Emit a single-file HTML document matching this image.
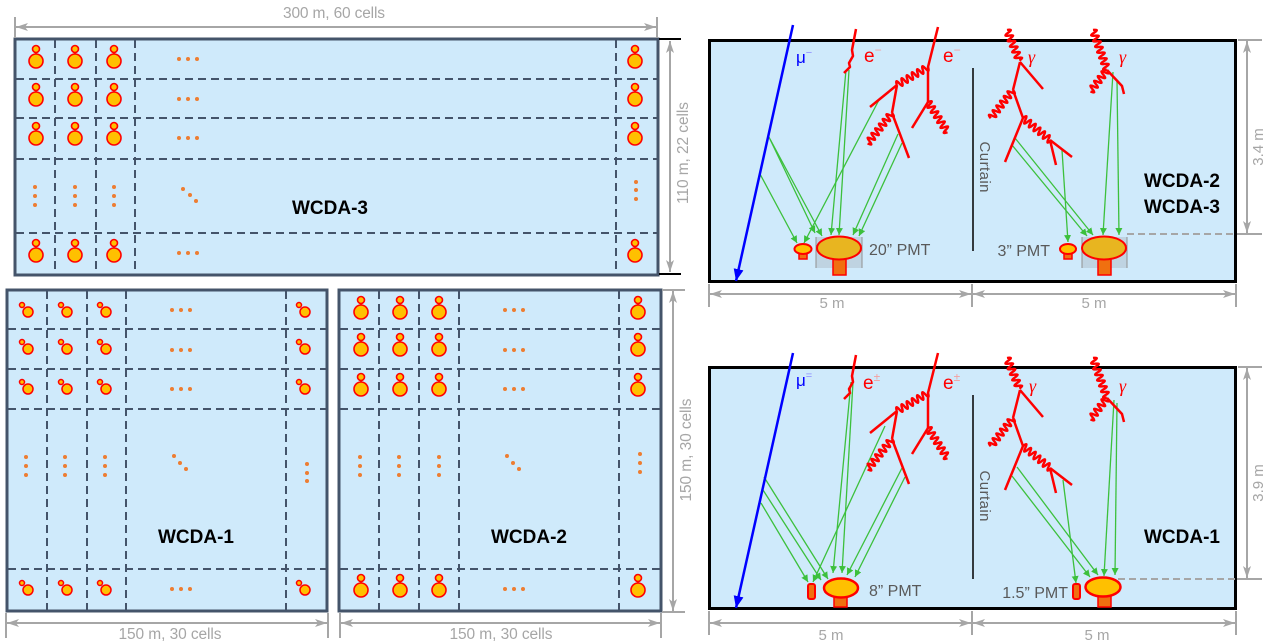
<!DOCTYPE html>
<html><head><meta charset="utf-8"><style>html,body{margin:0;padding:0;background:#fff}svg{display:block}</style></head><body>
<svg width="1268" height="644" viewBox="0 0 1268 644" xmlns="http://www.w3.org/2000/svg" font-family="'Liberation Sans', sans-serif">
<defs>
<marker id="ga" viewBox="0 0 8 8" refX="8" refY="4" markerWidth="7" markerHeight="7" markerUnits="userSpaceOnUse" orient="auto"><path d="M0,0L8,4L0,8z" fill="#3cc03c"/></marker>
<marker id="da" viewBox="0 0 12 8" refX="12" refY="4" markerWidth="12" markerHeight="8" markerUnits="userSpaceOnUse" orient="auto-start-reverse"><path d="M0,0L12,4L0,8L3,4z" fill="#a6a6a6"/></marker>
<marker id="ba" viewBox="0 0 12 10" refX="12" refY="5" markerWidth="12" markerHeight="10" markerUnits="userSpaceOnUse" orient="auto"><path d="M0,0L12,5L0,10z" fill="#0000ff"/></marker>
<g id="p3" stroke="#ff0000" stroke-width="1.6" fill="#ffc000"><line x1="0" y1="-8" x2="0" y2="-7" /><circle cx="0" cy="0" r="7"/><circle cx="0" cy="-12" r="3.5"/></g>
<g id="p1" stroke="#ff0000" stroke-width="1.5" fill="#ffc000"><circle cx="0" cy="0" r="5"/><circle cx="-6" cy="-7" r="2.5"/></g>
</defs>

<!-- ============ WCDA-3 ============ -->
<rect x="15" y="39" width="643" height="236" fill="#cfeafb" stroke="#44546a" stroke-width="3"/>
<g stroke="#44546a" stroke-width="2" stroke-dasharray="8 5" fill="none">
<line x1="55" y1="40" x2="55" y2="274"/><line x1="96" y1="40" x2="96" y2="274"/><line x1="135" y1="40" x2="135" y2="274"/><line x1="616" y1="40" x2="616" y2="274"/>
<line x1="16" y1="79" x2="657" y2="79"/><line x1="16" y1="118" x2="657" y2="118"/><line x1="16" y1="159" x2="657" y2="159"/><line x1="16" y1="233" x2="657" y2="233"/>
</g>
<use href="#p3" x="36" y="61"/><use href="#p3" x="75" y="61"/><use href="#p3" x="114" y="61"/><use href="#p3" x="635" y="61"/>
<use href="#p3" x="36" y="99"/><use href="#p3" x="75" y="99"/><use href="#p3" x="114" y="99"/><use href="#p3" x="635" y="99"/>
<use href="#p3" x="36" y="138"/><use href="#p3" x="75" y="138"/><use href="#p3" x="114" y="138"/><use href="#p3" x="635" y="138"/>
<use href="#p3" x="36" y="255"/><use href="#p3" x="75" y="255"/><use href="#p3" x="114" y="255"/><use href="#p3" x="635" y="255"/>
<g fill="#ed7d31">
<circle cx="179" cy="59" r="2"/><circle cx="188" cy="59" r="2"/><circle cx="197" cy="59" r="2"/>
<circle cx="179" cy="99" r="2"/><circle cx="188" cy="99" r="2"/><circle cx="197" cy="99" r="2"/>
<circle cx="179" cy="138" r="2"/><circle cx="188" cy="138" r="2"/><circle cx="197" cy="138" r="2"/>
<circle cx="179" cy="253" r="2"/><circle cx="188" cy="253" r="2"/><circle cx="197" cy="253" r="2"/>
<circle cx="35" cy="187" r="2"/><circle cx="35" cy="196" r="2"/><circle cx="35" cy="205" r="2"/>
<circle cx="75" cy="187" r="2"/><circle cx="75" cy="196" r="2"/><circle cx="75" cy="205" r="2"/>
<circle cx="114" cy="187" r="2"/><circle cx="114" cy="196" r="2"/><circle cx="114" cy="205" r="2"/>
<circle cx="183" cy="189" r="2"/><circle cx="190" cy="195" r="2"/><circle cx="196" cy="201" r="2"/>
<circle cx="636" cy="182" r="2"/><circle cx="636" cy="190" r="2"/><circle cx="636" cy="199" r="2"/>
</g>
<text x="330" y="214" font-size="19" font-weight="bold" text-anchor="middle" fill="#000">WCDA-3</text>

<!-- dims WCDA-3 -->
<g stroke="#a6a6a6" stroke-width="2" fill="none">
<line x1="15" y1="17" x2="15" y2="38"/><line x1="657" y1="17" x2="657" y2="38"/>
<line x1="16" y1="27" x2="656" y2="27" marker-start="url(#da)" marker-end="url(#da)"/>
<line x1="670" y1="41" x2="670" y2="272" marker-start="url(#da)" marker-end="url(#da)"/>
</g>
<g stroke="#000" stroke-width="2"><line x1="659" y1="39" x2="681" y2="39"/><line x1="659" y1="274" x2="681" y2="274"/></g>
<text x="334" y="18" font-size="15.5" text-anchor="middle" fill="#a6a6a6" textLength="102">300 m, 60 cells</text>
<text transform="translate(688,153) rotate(-90)" font-size="15.5" text-anchor="middle" fill="#a6a6a6" textLength="102">110 m, 22 cells</text>

<!-- ============ WCDA-1 ============ -->
<rect x="7" y="290" width="320" height="321" fill="#cfeafb" stroke="#44546a" stroke-width="3"/>
<g stroke="#44546a" stroke-width="2" stroke-dasharray="8 5" fill="none">
<line x1="47" y1="291" x2="47" y2="610"/><line x1="87" y1="291" x2="87" y2="610"/><line x1="126" y1="291" x2="126" y2="610"/><line x1="286" y1="291" x2="286" y2="610"/>
<line x1="8" y1="329" x2="326" y2="329"/><line x1="8" y1="369" x2="326" y2="369"/><line x1="8" y1="409" x2="326" y2="409"/><line x1="8" y1="569" x2="326" y2="569"/>
</g>
<use href="#p1" x="28" y="312"/><use href="#p1" x="67" y="312"/><use href="#p1" x="106" y="312"/><use href="#p1" x="305" y="312"/>
<use href="#p1" x="28" y="349"/><use href="#p1" x="67" y="349"/><use href="#p1" x="106" y="349"/><use href="#p1" x="305" y="349"/>
<use href="#p1" x="28" y="389"/><use href="#p1" x="67" y="389"/><use href="#p1" x="106" y="389"/><use href="#p1" x="305" y="389"/>
<use href="#p1" x="28" y="590"/><use href="#p1" x="67" y="590"/><use href="#p1" x="106" y="590"/><use href="#p1" x="305" y="590"/>
<g fill="#ed7d31">
<circle cx="172" cy="310" r="2"/><circle cx="181" cy="310" r="2"/><circle cx="190" cy="310" r="2"/>
<circle cx="172" cy="350" r="2"/><circle cx="181" cy="350" r="2"/><circle cx="190" cy="350" r="2"/>
<circle cx="172" cy="389" r="2"/><circle cx="181" cy="389" r="2"/><circle cx="190" cy="389" r="2"/>
<circle cx="172" cy="589" r="2"/><circle cx="181" cy="589" r="2"/><circle cx="190" cy="589" r="2"/>
<circle cx="26" cy="457" r="2"/><circle cx="26" cy="466" r="2"/><circle cx="26" cy="475" r="2"/>
<circle cx="65" cy="457" r="2"/><circle cx="65" cy="466" r="2"/><circle cx="65" cy="475" r="2"/>
<circle cx="105" cy="457" r="2"/><circle cx="105" cy="466" r="2"/><circle cx="105" cy="475" r="2"/>
<circle cx="174" cy="456" r="2"/><circle cx="180" cy="463" r="2"/><circle cx="186" cy="469" r="2"/>
<circle cx="307" cy="464" r="2"/><circle cx="307" cy="473" r="2"/><circle cx="307" cy="481" r="2"/>
</g>
<text x="196" y="543" font-size="19" font-weight="bold" text-anchor="middle" fill="#000">WCDA-1</text>

<!-- ============ WCDA-2 ============ -->
<rect x="339" y="290" width="322" height="321" fill="#cfeafb" stroke="#44546a" stroke-width="3"/>
<g stroke="#44546a" stroke-width="2" stroke-dasharray="8 5" fill="none">
<line x1="379" y1="291" x2="379" y2="610"/><line x1="419" y1="291" x2="419" y2="610"/><line x1="459" y1="291" x2="459" y2="610"/><line x1="619" y1="291" x2="619" y2="610"/>
<line x1="340" y1="329" x2="660" y2="329"/><line x1="340" y1="369" x2="660" y2="369"/><line x1="340" y1="409" x2="660" y2="409"/><line x1="340" y1="569" x2="660" y2="569"/>
</g>
<use href="#p3" x="361" y="312"/><use href="#p3" x="400" y="312"/><use href="#p3" x="439" y="312"/><use href="#p3" x="638" y="312"/>
<use href="#p3" x="361" y="349"/><use href="#p3" x="400" y="349"/><use href="#p3" x="439" y="349"/><use href="#p3" x="638" y="349"/>
<use href="#p3" x="361" y="389"/><use href="#p3" x="400" y="389"/><use href="#p3" x="439" y="389"/><use href="#p3" x="638" y="389"/>
<use href="#p3" x="361" y="590"/><use href="#p3" x="400" y="590"/><use href="#p3" x="439" y="590"/><use href="#p3" x="638" y="590"/>
<g fill="#ed7d31">
<circle cx="505" cy="310" r="2"/><circle cx="514" cy="310" r="2"/><circle cx="523" cy="310" r="2"/>
<circle cx="505" cy="350" r="2"/><circle cx="514" cy="350" r="2"/><circle cx="523" cy="350" r="2"/>
<circle cx="505" cy="389" r="2"/><circle cx="514" cy="389" r="2"/><circle cx="523" cy="389" r="2"/>
<circle cx="505" cy="589" r="2"/><circle cx="514" cy="589" r="2"/><circle cx="523" cy="589" r="2"/>
<circle cx="360" cy="457" r="2"/><circle cx="360" cy="466" r="2"/><circle cx="360" cy="475" r="2"/>
<circle cx="399" cy="457" r="2"/><circle cx="399" cy="466" r="2"/><circle cx="399" cy="475" r="2"/>
<circle cx="439" cy="457" r="2"/><circle cx="439" cy="466" r="2"/><circle cx="439" cy="475" r="2"/>
<circle cx="507" cy="456" r="2"/><circle cx="513" cy="463" r="2"/><circle cx="519" cy="469" r="2"/>
<circle cx="640" cy="454" r="2"/><circle cx="640" cy="463" r="2"/><circle cx="640" cy="472" r="2"/>
</g>
<text x="529" y="543" font-size="19" font-weight="bold" text-anchor="middle" fill="#000">WCDA-2</text>

<!-- dims WCDA-1/2 -->
<g stroke="#a6a6a6" stroke-width="2" fill="none">
<line x1="6" y1="613" x2="6" y2="638"/><line x1="328" y1="613" x2="328" y2="638"/>
<line x1="7" y1="623" x2="327" y2="623" marker-start="url(#da)" marker-end="url(#da)"/>
<line x1="340" y1="613" x2="340" y2="638"/><line x1="661" y1="613" x2="661" y2="638"/>
<line x1="341" y1="623" x2="660" y2="623" marker-start="url(#da)" marker-end="url(#da)"/>
<line x1="662" y1="290" x2="685" y2="290"/><line x1="662" y1="612" x2="685" y2="612"/>
<line x1="673" y1="291" x2="673" y2="611" marker-start="url(#da)" marker-end="url(#da)"/>
</g>
<text x="170" y="639" font-size="15.5" text-anchor="middle" fill="#a6a6a6" textLength="103">150 m, 30 cells</text>
<text x="501" y="639" font-size="15.5" text-anchor="middle" fill="#a6a6a6" textLength="103">150 m, 30 cells</text>
<text transform="translate(691,450) rotate(-90)" font-size="15.5" text-anchor="middle" fill="#a6a6a6" textLength="103">150 m, 30 cells</text>

<!-- ============ Right top panel ============ -->
<rect x="709.5" y="40.5" width="526" height="241" fill="#cfeafb" stroke="#000" stroke-width="3"/>
<line x1="973" y1="68" x2="973" y2="251" stroke="#000" stroke-width="1.5"/>
<text transform="translate(980,167) rotate(90)" font-size="15" text-anchor="middle" fill="#595959" textLength="51">Curtain</text>
<text x="1182" y="187" font-size="19" font-weight="bold" text-anchor="middle" fill="#000">WCDA-2</text>
<text x="1182" y="213" font-size="19" font-weight="bold" text-anchor="middle" fill="#000">WCDA-3</text>

<!-- PMTs top -->
<rect x="816" y="237" width="46" height="31" fill="#b9cbd8" fill-opacity="0.75"/>
<line x1="816" y1="237" x2="816" y2="268" stroke="#909090" stroke-width="1"/><line x1="862" y1="237" x2="862" y2="268" stroke="#909090" stroke-width="1"/>
<rect x="833" y="259" width="13" height="16" fill="#f07010" stroke="#ff0000" stroke-width="1.5"/>
<ellipse cx="839" cy="248" rx="22" ry="11.5" fill="#e8b520" stroke="#ff0000" stroke-width="2"/>
<rect x="799" y="252" width="8" height="7" fill="#f07010" stroke="#ff0000" stroke-width="1.5"/>
<ellipse cx="803" cy="249" rx="8.5" ry="5" fill="#ffc000" stroke="#ff0000" stroke-width="2"/>
<text x="869" y="255" font-size="16" fill="#595959">20” PMT</text>

<rect x="1082" y="237" width="45" height="31" fill="#b9cbd8" fill-opacity="0.75"/>
<line x1="1082" y1="237" x2="1082" y2="268" stroke="#909090" stroke-width="1"/><line x1="1127" y1="237" x2="1127" y2="268" stroke="#909090" stroke-width="1"/>
<rect x="1098" y="259" width="13" height="16" fill="#f07010" stroke="#ff0000" stroke-width="1.5"/>
<ellipse cx="1104" cy="248" rx="22" ry="11.5" fill="#e8b520" stroke="#ff0000" stroke-width="2"/>
<rect x="1064" y="252" width="8" height="7" fill="#f07010" stroke="#ff0000" stroke-width="1.5"/>
<ellipse cx="1068" cy="249" rx="8" ry="5" fill="#ffc000" stroke="#ff0000" stroke-width="2"/>
<text x="1050" y="256" font-size="16" fill="#595959" text-anchor="end">3” PMT</text>

<!-- green light top -->
<g stroke="#3cc03c" stroke-width="1.3" fill="none" marker-end="url(#ga)">
<line x1="768" y1="135" x2="815" y2="233"/><line x1="770" y1="139" x2="822" y2="236"/><line x1="760" y1="174" x2="797" y2="243"/>
<line x1="846" y1="70" x2="831" y2="235"/><line x1="849" y1="70" x2="839" y2="235"/>
<line x1="880" y1="98" x2="804" y2="243"/>
<line x1="898" y1="134" x2="853" y2="235"/><line x1="902" y1="143" x2="859" y2="236"/>
<line x1="1015" y1="138" x2="1093" y2="235"/><line x1="1012" y1="145" x2="1087" y2="236"/>
<line x1="1062" y1="150" x2="1068" y2="242"/>
<line x1="1113" y1="72" x2="1103" y2="235"/><line x1="1117" y1="80" x2="1119" y2="235"/>
</g>

<!-- muon top -->
<line x1="793" y1="25" x2="736" y2="281" stroke="#0000ff" stroke-width="2.5" marker-end="url(#ba)"/>
<text x="796" y="63" font-size="17" fill="#0000ff">μ<tspan font-size="11" dy="-7" fill="#8c8cff">−</tspan></text>

<!-- electrons top -->
<g id="etop" stroke="#ff0000" stroke-width="2.5" fill="none" stroke-linejoin="round">
<polyline points="856,29 852,50 853,56 849,63 850,67 844,73"/>
<polyline points="938,27 928,67 928,102"/>
<line x1="897" y1="85" x2="870" y2="107"/>
<line x1="897" y1="85" x2="892" y2="113"/>
<line x1="892" y1="113" x2="909" y2="158"/>
<line x1="928" y1="102" x2="912" y2="128"/>
<g stroke-width="2.4">
<path transform="translate(928,67) rotate(149.9)" d="M0,0q1.5,-7 3,0t3,0t3,0t3,0t3,0t3,0t3,0t3,0t3,0t3,0t3,0t3,0"/>
<path transform="translate(928,102) rotate(57.2)" d="M0,0q1.5,-7 3,0t3,0t3,0t3,0t3,0t3,0t3,0t3,0t3,0t3,0t3,0t3,0"/>
<path transform="translate(892,113) rotate(128.7)" d="M0,0q1.5,-7 3,0t3,0t3,0t3,0t3,0t3,0t3,0t3,0t3,0t3,0t3,0t3,0t3,0"/>
</g>
</g>
<text x="864" y="62" font-size="19" fill="#ff0000">e<tspan font-size="12" dy="-8" fill="#f4a0a0">−</tspan></text>
<text x="943" y="62" font-size="19" fill="#ff0000">e<tspan font-size="12" dy="-8" fill="#f4a0a0">−</tspan></text>

<!-- gammas top -->
<g id="gtop" stroke="#ff0000" stroke-width="2.5" fill="none" stroke-linejoin="round">
<line x1="1020" y1="62" x2="1043" y2="89"/>
<line x1="1020" y1="62" x2="1013" y2="90"/>
<line x1="1013" y1="90" x2="1023" y2="118"/>
<line x1="1023" y1="118" x2="1005" y2="162"/>
<line x1="1050" y1="140" x2="1072" y2="157"/>
<line x1="1050" y1="140" x2="1056" y2="165"/>
<polyline points="1107,70 1122,86 1124,94"/>
<g stroke-width="2.4">
<path transform="translate(1007,30) rotate(67.9)" d="M0,0q1.5,-7 3,0t3,0t3,0t3,0t3,0t3,0t3,0t3,0t3,0t3,0t3,0"/>
<path transform="translate(1013,90) rotate(128.2)" d="M0,0q1.5,-7 3,0t3,0t3,0t3,0t3,0t3,0t3,0t3,0t3,0t3,0t3,0t3,0"/>
<path transform="translate(1023,118) rotate(39.2)" d="M0,0q1.5,-7 3,0t3,0t3,0t3,0t3,0t3,0t3,0t3,0t3,0t3,0t3,0t3,0"/>
<path transform="translate(1093,30) rotate(70.7)" d="M0,0q1.5,-7 3,0t3,0t3,0t3,0t3,0t3,0t3,0t3,0t3,0t3,0t3,0t3,0t3,0t3,0"/>
<path transform="translate(1107,70) rotate(127.7)" d="M0,0q1.5,-7 3,0t3,0t3,0t3,0t3,0t3,0t3,0t3,0t3,0"/>
</g>
</g>
<text x="1028" y="63" font-size="18" font-style="italic" font-family="'Liberation Serif', serif" fill="#ff0000">γ</text>
<text x="1119" y="63" font-size="18" font-style="italic" font-family="'Liberation Serif', serif" fill="#ff0000">γ</text>

<!-- dims top right -->
<g stroke="#a6a6a6" stroke-width="2" fill="none">
<line x1="709" y1="284" x2="709" y2="307"/><line x1="972" y1="284" x2="972" y2="307"/><line x1="1236" y1="284" x2="1236" y2="307"/>
<line x1="710" y1="294" x2="971" y2="294" marker-start="url(#da)" marker-end="url(#da)"/>
<line x1="973" y1="294" x2="1235" y2="294" marker-start="url(#da)" marker-end="url(#da)"/>
<line x1="1238" y1="40" x2="1262" y2="40"/>
<line x1="1127" y1="234" x2="1237" y2="234" stroke-dasharray="7 4"/>
<line x1="1237" y1="234" x2="1262" y2="234"/>
<line x1="1247" y1="41" x2="1247" y2="233" marker-start="url(#da)" marker-end="url(#da)"/>
</g>
<text x="832" y="308" font-size="15" text-anchor="middle" fill="#a6a6a6">5 m</text>
<text x="1094" y="308" font-size="15" text-anchor="middle" fill="#a6a6a6">5 m</text>
<text transform="translate(1263,147) rotate(-90)" font-size="15" text-anchor="middle" fill="#a6a6a6">3.4 m</text>

<!-- ============ Right bottom panel ============ -->
<rect x="709.5" y="367.5" width="526" height="241" fill="#cfeafb" stroke="#000" stroke-width="3"/>
<line x1="973" y1="395" x2="973" y2="579" stroke="#000" stroke-width="1.5"/>
<text transform="translate(980,496) rotate(90)" font-size="15" text-anchor="middle" fill="#595959" textLength="51">Curtain</text>
<text x="1182" y="543" font-size="19" font-weight="bold" text-anchor="middle" fill="#000">WCDA-1</text>

<!-- PMTs bottom -->
<rect x="834" y="596" width="13" height="11" fill="#f07010" stroke="#ff0000" stroke-width="1.5"/>
<ellipse cx="841" cy="588" rx="17" ry="9.5" fill="#ffc000" stroke="#ff0000" stroke-width="2.5"/>
<rect x="808" y="584" width="7" height="15" rx="2" fill="#f07010" stroke="#ff0000" stroke-width="2"/>
<text x="869" y="596" font-size="16" fill="#595959">8” PMT</text>
<rect x="1098" y="596" width="13" height="11" fill="#f07010" stroke="#ff0000" stroke-width="1.5"/>
<ellipse cx="1103" cy="587" rx="17.5" ry="9.5" fill="#ffc000" stroke="#ff0000" stroke-width="2.5"/>
<rect x="1073" y="584" width="7" height="15" rx="2" fill="#f07010" stroke="#ff0000" stroke-width="2"/>
<text x="1068" y="598" font-size="16" fill="#595959" text-anchor="end">1.5” PMT</text>

<!-- green bottom -->
<g stroke="#3cc03c" stroke-width="1.3" fill="none" marker-end="url(#ga)">
<line x1="764" y1="477" x2="828" y2="579"/><line x1="763" y1="490" x2="821" y2="580"/><line x1="761" y1="503" x2="808" y2="582"/>
<line x1="851" y1="382" x2="833" y2="573"/><line x1="853" y1="382" x2="842" y2="573"/>
<line x1="885" y1="426" x2="813" y2="582"/>
<line x1="902" y1="468" x2="847" y2="575"/><line x1="905" y1="477" x2="855" y2="577"/>
<line x1="1017" y1="467" x2="1098" y2="575"/><line x1="1012" y1="476" x2="1090" y2="577"/>
<line x1="1063" y1="480" x2="1076" y2="583"/>
<line x1="1114" y1="400" x2="1104" y2="576"/><line x1="1117" y1="403" x2="1115" y2="575"/>
</g>

<!-- muon bottom -->
<line x1="793" y1="353" x2="736" y2="608" stroke="#0000ff" stroke-width="2.5" marker-end="url(#ba)"/>
<text x="796" y="386" font-size="17" fill="#0000ff">μ<tspan font-size="11" dy="-7" fill="#8c8cff">=</tspan></text>

<use href="#etop" transform="translate(0,326)"/>
<text x="863" y="389" font-size="19" fill="#ff0000">e<tspan font-size="12" dy="-8" fill="#f4a0a0">±</tspan></text>
<text x="943" y="389" font-size="19" fill="#ff0000">e<tspan font-size="12" dy="-8" fill="#f4a0a0">±</tspan></text>
<use href="#gtop" transform="translate(0,328)"/>
<text x="1029" y="392" font-size="18" font-style="italic" font-family="'Liberation Serif', serif" fill="#ff0000">γ</text>
<text x="1119" y="392" font-size="18" font-style="italic" font-family="'Liberation Serif', serif" fill="#ff0000">γ</text>

<!-- dims bottom right -->
<g stroke="#a6a6a6" stroke-width="2" fill="none">
<line x1="709" y1="611" x2="709" y2="635"/><line x1="972" y1="611" x2="972" y2="635"/><line x1="1236" y1="611" x2="1236" y2="635"/>
<line x1="710" y1="623" x2="971" y2="623" marker-start="url(#da)" marker-end="url(#da)"/>
<line x1="973" y1="623" x2="1235" y2="623" marker-start="url(#da)" marker-end="url(#da)"/>
<line x1="1238" y1="367" x2="1262" y2="367"/>
<line x1="1118" y1="579" x2="1237" y2="579" stroke-dasharray="7 4"/>
<line x1="1237" y1="579" x2="1262" y2="579"/>
<line x1="1247" y1="368" x2="1247" y2="578" marker-start="url(#da)" marker-end="url(#da)"/>
</g>
<text x="831" y="640" font-size="15" text-anchor="middle" fill="#a6a6a6">5 m</text>
<text x="1097" y="640" font-size="15" text-anchor="middle" fill="#a6a6a6">5 m</text>
<text transform="translate(1263,483) rotate(-90)" font-size="15" text-anchor="middle" fill="#a6a6a6">3.9 m</text>
</svg>
</body></html>
